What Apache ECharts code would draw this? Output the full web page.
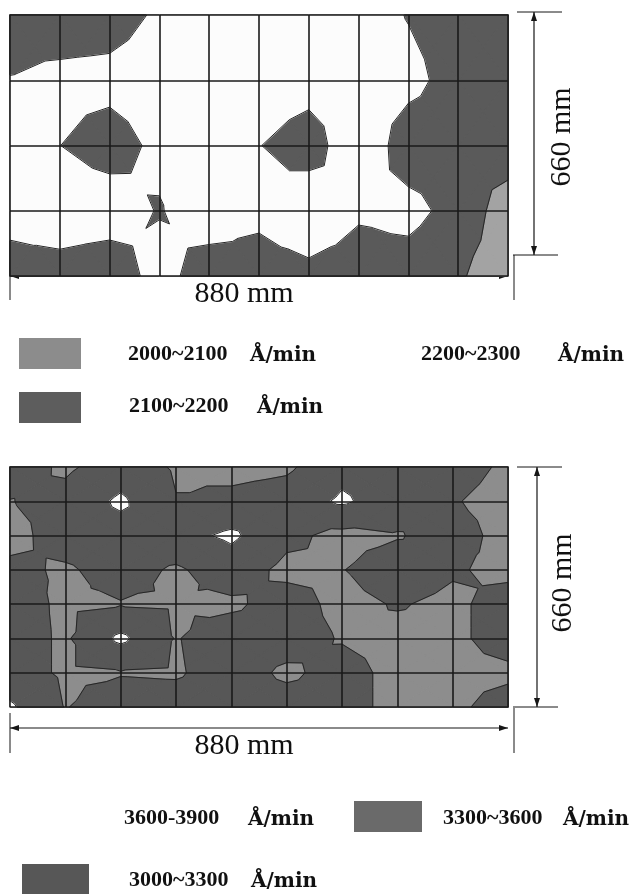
<!DOCTYPE html>
<html>
<head>
<meta charset="utf-8">
<title>etch rate map</title>
<script src="https://cdn.jsdelivr.net/npm/echarts@6/dist/echarts.min.js"></script>
<style>
  html, body { margin: 0; padding: 0; background: #fff; }
  #main { width: 632px; height: 894px; }
</style>
</head>
<body>
<div id="main"></div>
<script>
// panel size, mm
var panelW = 880, panelH = 660;

// etch rate (A/min) at grid nodes, upper panel: 11 x 5 nodes, row 0 = top edge
var topRates = [
  [2150, 2140, 2150, 2217, 2250, 2250, 2250, 2250, 2195, 2150, 2150],
  [2204, 2228, 2235, 2260, 2260, 2260, 2241, 2260, 2230, 2159, 2150],
  [2230, 2201, 2150, 2227, 2260, 2203, 2150, 2280, 2145, 2140, 2156],
  [2241, 2272, 2265, 2192, 2275, 2226, 2279, 2214, 2232, 2164, 2050],
  [2150, 2150, 2120, 2250, 2130, 2150, 2170, 2150, 2150, 2110, 2050]
];
var topLevels = [2000, 2100, 2200, 2300];
var topColors = ['#a3a3a3', '#5a5a5a', '#fcfcfc'];

// lower panel: 10 x 8 nodes
var bottomRates = [
  [3450, 3250, 3450, 3270, 3200, 3250, 3520, 3450, 3420, 3250],
  [3290, 3400, 3650, 3310, 3380, 3450, 3640, 3450, 3320, 3200],
  [3200, 3440, 3480, 3510, 3650, 3370, 3220, 3280, 3420, 3200],
  [3370, 3260, 3420, 3260, 3450, 3230, 3290, 3450, 3330, 3230],
  [3420, 3250, 3285, 3270, 3250, 3420, 3220, 3320, 3240, 3420],
  [3420, 3260, 3660, 3285, 3450, 3420, 3280, 3220, 3240, 3420],
  [3420, 3260, 3285, 3270, 3430, 3250, 3400, 3220, 3230, 3240],
  [3640, 3290, 3420, 3420, 3430, 3420, 3400, 3220, 3240, 3420]
];
var bottomLevels = [3000, 3300, 3600, 3900];
var bottomColors = ['#8d8d8d', '#575757', '#fcfcfc'];

var unitText = 'Å/min';

(function (window, doc) {

  var legendFont = 'bold 22px "Liberation Serif", serif';
  var unitFont = 'bold 20px "DejaVu Serif", serif';
  var dimFont = '30px "Liberation Serif", serif';
  var ink = '#161616';

  var topBox = { left: 10, top: 15, width: 498, height: 261 };
  var botBox = { left: 10, top: 467, width: 498, height: 240 };

  // keep the part of a polygon above (or below) level t, values linear inside
  function clip(poly, t, above) {
    var out = [];
    for (var k = 0; k < poly.length; k++) {
      var a = poly[k], b = poly[(k + 1) % poly.length];
      var ina = above ? a.v >= t : a.v < t;
      var inb = above ? b.v >= t : b.v < t;
      if (ina) out.push(a);
      if (ina !== inb) {
        var f = (t - a.v) / (b.v - a.v);
        out.push({ x: a.x + f * (b.x - a.x), y: a.y + f * (b.y - a.y), v: t });
      }
    }
    return out;
  }

  function cellRenderer(rates, levels, colors, cellW, cellH, lines) {
    return function (params, api) {
      var i = api.value(2), j = api.value(3);
      function node(ci, cj) {
        var p = api.coord([ci * cellW, cj * cellH]);
        return { x: p[0], y: p[1], v: rates[cj][ci] };
      }
      var a = node(i, j), b = node(i + 1, j), c = node(i + 1, j + 1), d = node(i, j + 1);
      var m = { x: (a.x + c.x) / 2, y: (a.y + c.y) / 2, v: (a.v + b.v + c.v + d.v) / 4 };
      var tris = [[a, b, m], [b, c, m], [c, d, m], [d, a, m]];
      var children = [];
      tris.forEach(function (tri) {
        if (!lines) {
          for (var k = 0; k < colors.length; k++) {
            var lo = k === 0 ? -Infinity : levels[k];
            var hi = k === colors.length - 1 ? Infinity : levels[k + 1];
            var poly = clip(clip(tri, lo, true), hi, false);
            if (poly.length < 3) continue;
            children.push({
              type: 'polygon',
              shape: { points: poly.map(function (p) { return [p.x, p.y]; }) },
              style: { fill: colors[k], stroke: colors[k], lineWidth: 1.1, lineJoin: 'round' }
            });
          }
        } else {
          for (var n = 1; n < colors.length; n++) {
            var t = levels[n], pts = [];
            for (var e = 0; e < 3; e++) {
              var p = tri[e], q = tri[(e + 1) % 3];
              if ((p.v - t) * (q.v - t) < 0) {
                var f = (t - p.v) / (q.v - p.v);
                pts.push([p.x + f * (q.x - p.x), p.y + f * (q.y - p.y)]);
              }
            }
            if (pts.length === 2) {
              children.push({
                type: 'line',
                shape: { x1: pts[0][0], y1: pts[0][1], x2: pts[1][0], y2: pts[1][1] },
                style: { stroke: '#262626', lineWidth: 1 }
              });
            }
          }
        }
      });
      return { type: 'group', children: children };
    };
  }

  function cells(rates, cellW, cellH) {
    var list = [];
    for (var j = 0; j < rates.length - 1; j++) {
      for (var i = 0; i < rates[0].length - 1; i++) {
        list.push([(i + 0.5) * cellW, (j + 0.5) * cellH, i, j]);
      }
    }
    return list;
  }

  function line(x1, y1, x2, y2, w) {
    return { type: 'line', shape: { x1: x1, y1: y1, x2: x2, y2: y2 },
      style: { stroke: ink, lineWidth: w || 1 }, silent: true };
  }
  function head(x, y, dx, dy) {
    // arrow tip at x,y pointing along dx,dy
    var L = 9, W = 3;
    return { type: 'polygon', silent: true,
      shape: { points: [[x, y], [x - dx * L - dy * W, y - dy * L + dx * W], [x - dx * L + dy * W, y - dy * L - dx * W]] },
      style: { fill: ink } };
  }
  function text(str, x, y, font, rot) {
    return { type: 'text', x: x, y: y, rotation: rot || 0, silent: true,
      style: { text: str, font: font, fill: '#111', align: 'left', verticalAlign: 'middle',
        textAlign: 'left', textVerticalAlign: 'middle' } };
  }
  function centerText(str, x, y, font, rot) {
    var t = text(str, x, y, font, rot);
    t.style.align = 'center'; t.style.textAlign = 'center';
    return t;
  }

  function dimensions(box, vTop, vBot, hY, extL, extR, labelY, vLabelX, vLabelY, vx) {
    var r = box.left + box.width;
    var g = [];
    // horizontal 880 mm
    g.push(line(box.left, hY, r, hY, 1.2));
    g.push(head(box.left, hY, -1, 0));
    g.push(head(r, hY, 1, 0));
    g.push(line(box.left, extL[0], box.left, extL[1]));
    g.push(line(r + 6, extR[0], r + 6, extR[1]));
    g.push(centerText('880 mm', 244, labelY, dimFont));
    // vertical 660 mm
    g.push(line(vx, vTop, vx, vBot, 1.2));
    g.push(head(vx, vTop, 0, -1));
    g.push(head(vx, vBot, 0, 1));
    g.push(line(r + 9, vTop, r + 54, vTop));
    g.push(line(r + 5, vBot, r + 50, vBot));
    g.push(centerText('660 mm', vLabelX, vLabelY, dimFont, Math.PI / 2));
    return g;
  }

  function swatch(x, y, w, h, color) {
    return { type: 'rect', silent: true, shape: { x: x, y: y, width: w, height: h }, style: { fill: color } };
  }

  function legend() {
    return [
      swatch(19, 338, 62, 31, '#8c8c8c'),
      text(topLevels[0] + '~' + topLevels[1], 128, 354, legendFont),
      text(unitText, 250, 356, unitFont),
      text(topLevels[2] + '~' + topLevels[3], 421, 354, legendFont),
      text(unitText, 558, 356, unitFont),
      swatch(19, 392, 62, 31, '#5d5d5d'),
      text(topLevels[1] + '~' + topLevels[2], 129, 406, legendFont),
      text(unitText, 257, 408, unitFont),

      text(bottomLevels[2] + '-' + bottomLevels[3], 124, 818, legendFont),
      text(unitText, 248, 820, unitFont),
      swatch(354, 801, 68, 31, '#6a6a6a'),
      text(bottomLevels[1] + '~' + bottomLevels[2], 443, 818, legendFont),
      text(unitText, 563, 820, unitFont),
      swatch(22, 864, 67, 32, '#575757'),
      text(bottomLevels[0] + '~' + bottomLevels[1], 129, 880, legendFont),
      text(unitText, 251, 882, unitFont)
    ];
  }

  var Panels = function () {
    this.init();
  };

  Panels.prototype = {
    constructor: Panels,
    init: function () {
      var chart = echarts.init(doc.getElementById('main'), null, { renderer: 'canvas' });
      var topW = panelW / (topRates[0].length - 1), topH = panelH / (topRates.length - 1);
      var botW = panelW / (bottomRates[0].length - 1), botH = panelH / (bottomRates.length - 1);

      function xAxis(idx, step) {
        return {
          gridIndex: idx, type: 'value', min: 0, max: panelW, interval: step, z: 6,
          axisLabel: { show: false }, axisTick: { show: false }, axisLine: { show: false },
          splitLine: { show: true, showMinLine: true, showMaxLine: true, lineStyle: { color: '#1a1a1a', width: 1.6 } }
        };
      }
      function yAxis(idx, step) {
        return {
          gridIndex: idx, type: 'value', min: 0, max: panelH, interval: step, inverse: true, z: 6,
          axisLabel: { show: false }, axisTick: { show: false }, axisLine: { show: false },
          splitLine: { show: true, showMinLine: true, showMaxLine: true, lineStyle: { color: '#1a1a1a', width: 1.6 } }
        };
      }
      function series(idx, rates, levels, colors, w, h, lines) {
        return {
          type: 'custom', xAxisIndex: idx, yAxisIndex: idx, z: lines ? 3 : 2,
          silent: true, animation: false,
          encode: { x: 0, y: 1 },
          data: cells(rates, w, h),
          renderItem: cellRenderer(rates, levels, colors, w, h, lines)
        };
      }

      var graphics = []
        .concat(dimensions(topBox, 12, 255, 276, [262, 300], [255, 300], 294, 562, 137, 534))
        .concat(dimensions(botBox, 467, 707, 728, [713, 753], [708, 753], 746, 563, 583, 537))
        .concat(legend());

      chart.setOption({
        backgroundColor: '#fff',
        animation: false,
        grid: [
          { left: topBox.left, top: topBox.top, width: topBox.width, height: topBox.height,
            show: true, borderColor: '#1a1a1a', borderWidth: 1.6, backgroundColor: 'transparent' },
          { left: botBox.left, top: botBox.top, width: botBox.width, height: botBox.height,
            show: true, borderColor: '#1a1a1a', borderWidth: 1.6, backgroundColor: 'transparent' }
        ],
        xAxis: [xAxis(0, topW), xAxis(1, botW)],
        yAxis: [yAxis(0, topH), yAxis(1, botH)],
        series: [
          series(0, topRates, topLevels, topColors, topW, topH, false),
          series(0, topRates, topLevels, topColors, topW, topH, true),
          series(1, bottomRates, bottomLevels, bottomColors, botW, botH, false),
          series(1, bottomRates, bottomLevels, bottomColors, botW, botH, true)
        ],
        graphic: { elements: graphics }
      });
    }
  };

  window.Panels = window.Panels || Panels;
  new Panels();
}(window, document));
</script>
</body>
</html>
